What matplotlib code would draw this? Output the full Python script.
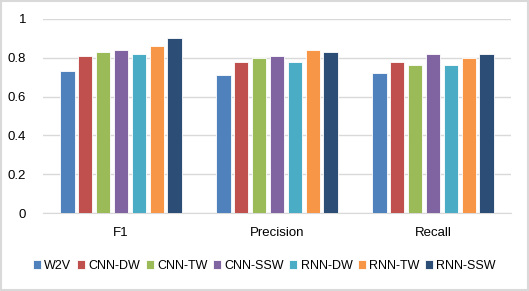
import matplotlib
matplotlib.use("Agg")
import matplotlib.pyplot as plt
import numpy as np
from matplotlib.patches import Rectangle

plt.rcParams["font.family"] = ["Liberation Sans", "DejaVu Sans"]

categories = ["F1", "Precision", "Recall"]
series = ["W2V", "CNN-DW", "CNN-TW", "CNN-SSW", "RNN-DW", "RNN-TW", "RNN-SSW"]
values = {
    "W2V":     [0.73, 0.71, 0.72],
    "CNN-DW":  [0.81, 0.78, 0.78],
    "CNN-TW":  [0.83, 0.80, 0.76],
    "CNN-SSW": [0.84, 0.81, 0.82],
    "RNN-DW":  [0.82, 0.78, 0.76],
    "RNN-TW":  [0.86, 0.84, 0.80],
    "RNN-SSW": [0.90, 0.83, 0.82],
}
colors = ["#4F81BD", "#C0504D", "#9BBB59", "#8064A2", "#4BACC6", "#F79646", "#2C4D75"]

fig = plt.figure(figsize=(5.29, 2.91), dpi=100)
ax = fig.add_axes([43/529, 1-213.3/291, (511-43)/529, (213.3-18.7)/291])

x = np.arange(len(categories))
slot = 0.80 / len(series)
bw = slot * 0.8
for i, s in enumerate(series):
    pos = x - 0.80/2 + slot*(i+0.5)
    ax.bar(pos, values[s], width=bw, color=colors[i], edgecolor="#FFFFFF", linewidth=0.6, label=s, zorder=3)

ax.set_xlim(-0.5, 2.5)
ax.set_ylim(0, 1)
ax.set_yticks([0, 0.2, 0.4, 0.6, 0.8, 1.0])
ax.set_yticklabels(["0", "0.2", "0.4", "0.6", "0.8", "1"])
ax.grid(axis="y", color="#D9D9D9", linewidth=1, zorder=0)
for sp in ["top", "right", "left"]:
    ax.spines[sp].set_visible(False)
ax.spines["bottom"].set_color("#D9D9D9")
ax.tick_params(axis="both", length=0, labelsize=9.5, colors="#000000")
ax.tick_params(axis="y", pad=12)
ax.tick_params(axis="x", pad=10)
ax.set_xticks(x)
ax.set_xticklabels(categories)

leg = fig.legend(loc="center", bbox_to_anchor=(0.5, 1-266/291), ncol=7, frameon=False,
                 fontsize=9, handlelength=0.65, handleheight=0.65, handletextpad=0.25,
                 columnspacing=0.45, borderaxespad=0)

fig.patches.append(Rectangle((0.002, 0.003), 0.996, 0.994, transform=fig.transFigure,
                             fill=False, edgecolor="#D9D9D9", linewidth=1.5))
fig.savefig("out.png", dpi=100)
